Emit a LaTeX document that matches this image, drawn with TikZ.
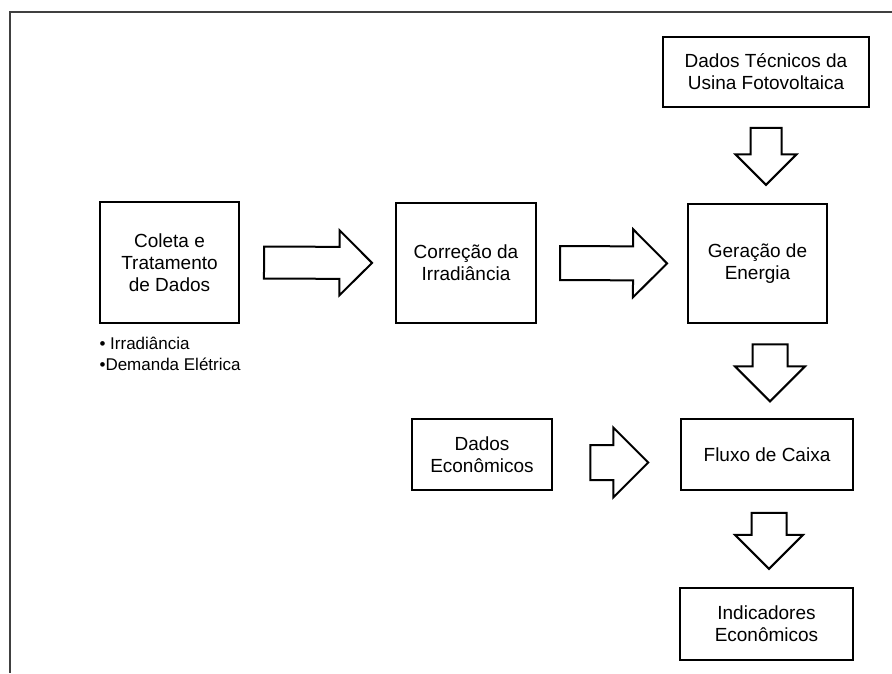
\documentclass[tikz,border=0pt]{standalone}
\usepackage{fontspec}
\setmainfont{Liberation Sans}
\usetikzlibrary{positioning,shapes.arrows}

\tikzset{
  caixa/.style={rectangle, draw=black, line width=1.3pt, align=center, inner sep=2pt},
  seta/.style n args={3}{single arrow, draw=black, line width=2pt, fill=white, inner sep=0pt,
    text height=#1, text depth=0pt, single arrow head extend=#2, sloped, pos=#3},
}

\begin{document}
\begin{tikzpicture}[x=1pt,y=-1pt,every node/.style={font=\fontsize{19}{22}\selectfont}]
    \useasboundingbox (0,0) rectangle (892,673);
    % moldura
    \draw[line width=1.5pt, black!75] (892,12) -- (10,12) -- (10,673);

    \node[caixa, minimum width=206pt, minimum height=70pt] (tecnicos) at (766,72) {Dados Técnicos da\\Usina Fotovoltaica};
    \node[caixa, minimum width=139pt, minimum height=121pt] (coleta) at (169.5,262.5) {Coleta e\\Tratamento\\de Dados};
    \node[caixa, minimum width=140pt, minimum height=120pt] (correcao) at (466,263) {Correção da\\Irradiância};
    \node[caixa, minimum width=139pt, minimum height=119pt] (geracao) at (757.5,263.5) {Geração de\\Energia};
    \node[caixa, minimum width=140pt, minimum height=71pt] (economicos) at (482,454.5) {Dados\\Econômicos};
    \node[caixa, minimum width=172pt, minimum height=71pt] (fluxo) at (767,454.5) {Fluxo de Caixa};
    \node[caixa, minimum width=173pt, minimum height=72pt] (indicadores) at (766.5,624) {Indicadores\\Econômicos};
    \node[below=13pt of coleta.south west, anchor=north west, align=left, inner sep=0pt,
      font=\fontsize{17}{21}\selectfont] (lista) {• Irradiância\\•Demanda Elétrica};

    % setas
    \path (coleta.east) -- (correcao.west) node[seta={30pt}{16.5pt}{.452}, minimum height=108pt] (s1) {};
    \path (correcao.east) -- (geracao.west) node[seta={32pt}{17pt}{.454}, minimum height=107pt] (s2) {};
    \path ([yshift=-8pt]economicos.east) -- ([yshift=-8pt]economicos.east -| fluxo.west) node[seta={33pt}{17.5pt}{.453}, minimum height=58pt] (s3) {};
    \path (tecnicos.south) -- (tecnicos.south |- geracao.north) node[seta={29pt}{15pt}{.428}, minimum height=57pt] (s4) {};
    \path ([xshift=3pt]fluxo.north |- geracao.south) -- ([xshift=3pt]fluxo.north) node[seta={33pt}{17.5pt}{.427}, minimum height=57pt] (s5) {};
    \path ([xshift=2pt]fluxo.south) -- ([xshift=2pt]fluxo.south |- indicadores.north) node[seta={33pt}{16.5pt}{.429}, minimum height=56pt] (s6) {};
\end{tikzpicture}
\end{document}
